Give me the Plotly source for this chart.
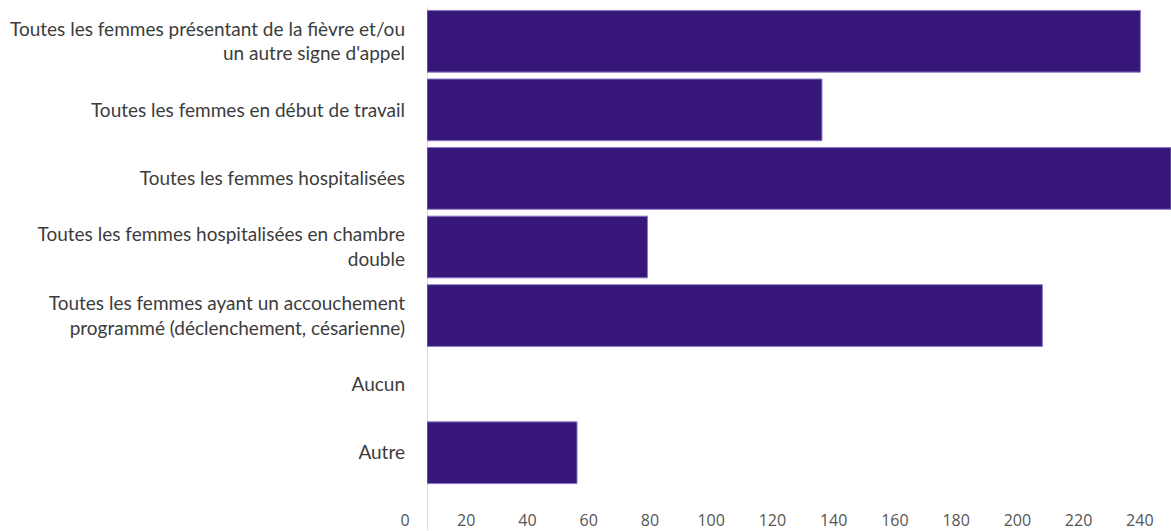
import plotly.graph_objects as go

categories = [
    "Toutes les femmes présentant de la fièvre et/ou<br>un autre signe d'appel",
    "Toutes les femmes en début de travail",
    "Toutes les femmes hospitalisées",
    "Toutes les femmes hospitalisées en chambre<br>double",
    "Toutes les femmes ayant un accouchement<br>programmé (déclenchement, césarienne)",
    "Aucun",
    "Autre",
]
values = [233, 129, 243, 72, 201, 0, 49]
tick_vals = list(range(0, 241, 20))
tick_text = [str(v) for v in tick_vals]

fig = go.Figure(
    go.Bar(
        x=values,
        y=categories,
        orientation="h",
        marker=dict(
            color="#37177a",
            line=dict(color="#8c78c8", width=[1 if v > 0 else 0 for v in values]),
        ),
    )
)

fig.update_layout(
    width=1171,
    height=531,
    margin=dict(l=427, r=0, t=7, b=42),
    paper_bgcolor="white",
    plot_bgcolor="white",
    bargap=0.1,
    showlegend=False,
    font=dict(family="Lato", color="#444444"),
)
fig.update_yaxes(
    autorange="reversed",
    showgrid=False,
    showline=False,
    zeroline=False,
    ticks="",
    tickfont=dict(family="Lato", size=19, color="#3c3c3c"),
    ticklabelstandoff=21,
)
fig.update_xaxes(
    range=[0, max(values)],
    tickvals=tick_vals,
    ticktext=tick_text,
    showgrid=False,
    zeroline=False,
    showline=False,
    ticks="",
    tickfont=dict(family="Open Sans", size=16, color="#555555"),
    ticklabelstandoff=22,
    ticklabelshift=-22,
)
fig.add_shape(
    type="line", xref="x", yref="paper",
    x0=0, x1=0, y0=-0.09, y1=1.0,
    line=dict(color="#dddddd", width=2),
    layer="below",
)

fig.write_html("out.html")
